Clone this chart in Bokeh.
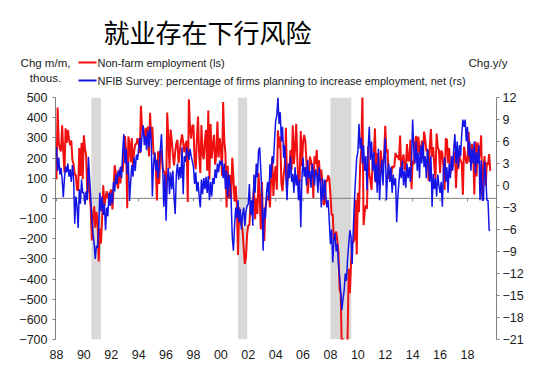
import numpy as np
from bokeh.plotting import figure
from bokeh.models import (Range1d, LinearAxis, FixedTicker, Span, BoxAnnotation)
from bokeh.core.properties import value
from bokeh.embed import file_html
from bokeh.resources import INLINE

# ---------------- data ----------------
start_year = 1988
# Non-farm employment, monthly change, thousands (left scale) - Jan 1988 onward
nfp = [
    94, 450, 277, 244, 234, 362, 227, 128, 347, 275, 339, 293,      # 1988
    263, 287, 189, 169, 118, 115, 43, 40, 249, 111, 275, 95,        # 1989
    313, 247, 213, 29, 151, 21, -45, -209, -84, -40, -146, -67,     # 1990
    -109, -313, -150, -224, -99, 65, -38, 1, 36, 6, -5, 30,         # 1991
    44, -55, 44, 164, 125, 74, 48, 143, 74, 161, 131, 221,          # 1992
    309, 237, -49, 307, 269, 179, 299, 155, 231, 268, 269, 298,     # 1993
    274, 224, 459, 347, 321, 303, 349, 293, 356, 208, 424, 297,     # 1994
    355, 217, 226, 160, -11, 233, 71, 236, 237, 144, 135, 124,      # 1995
    -20, 425, 299, 148, 341, 288, 216, 163, 229, 274, 290, 174,     # 1996
    227, 282, 317, 278, 228, 265, 285, -18, 491, 349, 296, 361,     # 1997
    362, 183, 145, 294, 406, 218, 125, 364, 219, 194, 286, 339,     # 1998
    137, 435, 93, 368, 198, 262, 315, 167, 215, 381, 203, 298,      # 1999
    248, 112, 477, 285, 224, -45, 161, 0, 115, -2, 201, 105,        # 2000
    -16, 62, -32, -281, -45, -127, -125, -160, -244, -325, -292, -178,  # 2001
    -134, -132, -22, -83, -12, 51, -104, -1, -77, 126, 9, -154,     # 2002
    81, -159, -212, -51, -6, -4, 21, -45, 93, 200, 12, 112,         # 2003
    160, 43, 337, 249, 307, 74, 36, 120, 160, 350, 64, 133,         # 2004
    136, 240, 142, 362, 170, 246, 369, 193, 67, 84, 334, 160,       # 2005
    277, 315, 281, 182, 23, 81, 207, 184, 157, 2, 209, 171,         # 2006
    240, 90, 189, 79, 143, 78, -33, -24, 88, 84, 114, 97,           # 2007
    17, -84, -78, -210, -185, -165, -209, -266, -452, -473, -769, -695,  # 2008
    -791, -703, -823, -687, -349, -471, -329, -213, -219, -200, -7, -279,  # 2009
    28, -69, 163, 243, 522, -133, -70, -34, -52, 257, 123, 88,      # 2010
    42, 188, 225, 346, 77, 225, 69, 110, 238, 166, 162, 214,        # 2011
    360, 226, 243, 96, 110, 88, 160, 150, 161, 225, 203, 214,       # 2012
    190, 311, 135, 192, 218, 146, 140, 269, 185, 189, 291, 45,      # 2013
    187, 168, 272, 310, 213, 306, 232, 218, 286, 200, 331, 292,     # 2014
    234, 238, 86, 262, 344, 206, 254, 157, 100, 321, 252, 239,      # 2015
    126, 237, 225, 153, 43, 297, 291, 176, 249, 124, 164, 155,      # 2016
    216, 232, 50, 207, 145, 210, 187, 177, 18, 256, 216, 175,       # 2017
    176, 330, 182, 196, 270, 235, 19, 282, 108, 277, 196, 227,      # 2018
    312, 1, 147, 210, 62, 178, 166, 219, 136,                       # 2019
]
# NFIB survey: % of firms planning to increase employment, net (right scale)
nfib = [
    5.2, 2.0, 3.8, 1.5, 2.4, 0.8, -1.6, 1.0, 2.6, 1.8, 3.0, 1.2,          # 1988
    2.2, 0.5, 2.8, 1.0, -5.2, -1.5, -2.8, -5.8, -0.5, -2.5, 0.8, -1.0,    # 1989
    -1.0, -2.6, -0.8, -2.0, 3.9, 1.0, -1.5, -4.5, -6.5, -8.0, -10.0, -8.2,  # 1990
    -8.5, -6.0, -1.0, -3.5, -1.5, -4.0, -2.5, -6.1, -3.0, -4.2, -1.0, -2.8,  # 1991
    -1.0, -2.5, 0.5, -0.8, 1.5, 0.2, 2.0, 1.2, 2.5, 1.0, 4.5, 7.0,        # 1992
    3.0, 5.0, 1.5, 3.2, -2.1, 0.5, 2.8, 1.2, 3.8, 2.0, 4.2, 3.5,          # 1993
    5.0, 6.5, 4.5, 7.0, 8.2, 5.5, 6.8, 4.8, 7.5, 5.2, 8.0, 6.2,           # 1994
    -1.5, 3.0, 4.5, 2.0, 3.5, 1.0, 2.5, 5.0, 7.0, 3.0, -2.9, 1.5,         # 1995
    -4.8, 0.5, 2.4, -1.2, 1.8, -0.5, 2.0, -1.6, -3.9, 1.5, 3.0, 0.8,      # 1996
    2.5, 1.0, 5.2, -1.2, 4.0, 3.2, 5.2, 4.5, 3.5, 5.0, 4.0, 3.3,          # 1997
    2.5, 0.2, 1.8, -0.8, 0.5, -1.5, -3.0, 0.8, -1.2, 1.0, -0.5, 1.2,      # 1998
    -1.0, 1.3, -2.0, 0.5, -1.5, 1.0, 0.2, 2.2, 1.0, 3.0, 1.8, 3.4,        # 1999
    2.8, 3.4, 1.0, 3.0, -0.5, 2.0, -1.6, 1.5, 0.0, -2.0, -7.0, -8.9,      # 2000
    -5.5, -3.0, -4.5, -2.0, -5.0, -3.2, -6.0, -4.0, -3.0, -5.5, -3.5, -2.8,  # 2001
    -2.5, 0.2, -4.0, -2.0, -5.5, 1.5, -1.0, 3.0, 1.1, 4.7, 5.2, 2.0,      # 2002
    -1.5, -8.9, -3.0, -4.5, -1.0, 0.5, -2.0, 2.9, 1.0, 4.0, 3.0, 6.0,     # 2003
    8.8, 9.5, 12.0, 8.4, 10.0, 6.0, 8.0, 3.8, 5.5, 1.0, -2.0, 3.0,        # 2004
    1.0, 4.0, 0.5, 1.6, -1.0, 2.5, 0.0, 1.5, -2.0, 0.8, -5.7, 1.0,        # 2005
    3.8, 1.2, 2.5, 0.0, 3.5, 1.0, 2.0, -0.3, 3.0, 1.5, 0.0, 2.2,          # 2006
    1.5, -1.0, 2.5, 0.5, -3.0, 1.0, -2.0, 0.8, -1.5, -3.0, -2.0, -5.0,    # 2007
    -8.0, -6.0, -10.5, -7.5, -6.5, -9.0, -8.0, -10.7, -12.5, -14.5, -17.0, -15.5,  # 2008
    -14.3, -12.0, -13.0, -10.0, -8.0, -6.1, -7.0, -10.7, -6.0, -2.0, 1.0, 3.8,  # 2009
    4.5, 8.4, 5.0, 6.5, 3.0, 5.5, 2.0, 4.0, -0.6, 5.0, 8.0, 3.5,          # 2010
    6.0, 2.0, 4.5, 0.5, 3.0, -1.0, 5.0, -2.0, 1.5, 3.5, 0.0, 4.0,         # 2011
    6.5, -2.0, 1.5, 3.0, 0.5, 2.5, -1.0, 1.5, 0.0, 1.0, -5.0, -1.5,       # 2012
    0.5, 2.5, 1.0, 3.4, 0.0, 2.0, -0.3, 3.0, 1.0, 2.5, 0.5, 3.0,          # 2013
    9.0, 5.0, 3.0, 6.0, 2.0, 4.5, 1.0, 5.5, 3.0, 6.0, 2.5, 4.0,           # 2014
    1.0, 5.0, 3.0, 0.5, 4.0, -2.9, 1.6, -0.5, 1.0, -1.5, 1.5, 0.0,        # 2015
    -1.0, 0.5, -2.9, 2.0, 3.8, 0.5, 2.5, -1.0, 3.0, 1.0, 4.0, 2.0,        # 2016
    5.0, 7.0, 3.0, 6.0, 2.5, 5.5, 4.0, 7.0, 9.0, 8.0, 9.0, 6.0,           # 2017
    8.0, 4.0, 6.0, 2.0, 5.0, 3.0, 6.0, 1.6, 4.5, 3.0, 5.5, -2.0,          # 2018
    3.4, -2.0, -2.0, 3.3, 1.5, -2.0, -2.0, -6.1, -6.1,                    # 2019
]
recession_start = [1990.55, 2001.25, 2008.0]
recession_end = [1991.25, 2001.92, 2009.52]
x_tick_years = list(range(1988, 2019, 2))
x_tick_labels = ["88", "90", "92", "94", "96", "98", "00", "02", "04",
                 "06", "08", "10", "12", "14", "16", "18"]
left_ticks = list(range(-700, 501, 100))
right_ticks = list(range(-21, 13, 3))

title_text = "就业存在下行风险"
left_unit = ["Chg m/m,", "thous."]
right_unit = "Chg.y/y"
legend_red = "Non-farm employment (ls)"
legend_blue = "NFIB Survey: percentage of firms planning to increase employment, net (rs)"

# ---------------- style ----------------
RED = "#f01010"
BLUE = "#1414e6"
TXT = "#1a1a1a"
FONT = "Liberation Sans"
W = 537
HEAD_H = 88
MAIN_H = 284

# ---------------- header (title + legend), pixel coordinates ----------------
h = figure(width=W, height=HEAD_H, output_backend="svg", toolbar_location=None,
           x_range=Range1d(0, W), y_range=Range1d(HEAD_H, 0),
           x_axis_location=None, y_axis_location=None,
           min_border=0, min_border_left=0, min_border_right=0,
           min_border_top=0, min_border_bottom=0)
h.grid.visible = False
h.outline_line_color = None
h.background_fill_color = "white"
h.border_fill_color = "white"

h.text(x=[103], y=[31], text=[title_text], text_font=value("Noto Sans CJK SC"),
       text_font_size=value("26px"), text_color="#000000",
       text_baseline="middle", text_align="left")
h.text(x=[45, 45], y=[62, 77], text=left_unit, text_font=value(FONT),
       text_font_size=value("11.5px"), text_color=TXT,
       text_baseline="middle", text_align="center")
h.text(x=[507], y=[62], text=[right_unit], text_font=value(FONT),
       text_font_size=value("11.5px"), text_color=TXT,
       text_baseline="middle", text_align="right")
h.segment(x0=[78, 78], y0=[62, 80], x1=[96, 96], y1=[62, 80],
          line_color=[RED, BLUE], line_width=2)
h.text(x=[97, 97], y=[62, 80], text=[legend_red, legend_blue],
       text_font=value(FONT), text_font_size=value("11px"), text_color=TXT,
       text_baseline="middle", text_align="left")

# ---------------- main chart ----------------
x_nfp = start_year + np.arange(len(nfp)) / 12.0
x_nfib = start_year + np.arange(len(nfib)) / 12.0

p = figure(width=W, height=MAIN_H, output_backend="svg", toolbar_location=None,
           x_range=Range1d(1987.93, 2020.12),
           y_range=Range1d(left_ticks[0], left_ticks[-1]),
           min_border_left=55, min_border_right=41, min_border_top=9,
           min_border_bottom=33)
p.extra_y_ranges = {"rs": Range1d(right_ticks[0], right_ticks[-1])}
p.outline_line_color = None
p.xgrid.visible = False
p.ygrid.visible = False
p.background_fill_color = "white"
p.border_fill_color = "white"

for s, e in zip(recession_start, recession_end):
    p.add_layout(BoxAnnotation(left=s, right=e, fill_color="#d9d9d9",
                               fill_alpha=1.0, line_color=None, level="underlay"))

p.add_layout(Span(location=0, dimension="width", line_color="#808080",
                  line_width=1, level="underlay"))
p.segment(x0=x_tick_years, y0=[0] * len(x_tick_years), x1=x_tick_years,
          y1=[-15] * len(x_tick_years), line_color="#808080", line_width=1)

p.line(x_nfp, nfp, line_color=RED, line_width=2)
p.line(x_nfib, nfib, line_color=BLUE, line_width=1.5, y_range_name="rs")


def style_axis(ax):
    ax.axis_line_color = "#808080"
    ax.major_tick_line_color = "#808080"
    ax.minor_tick_line_color = None
    ax.major_tick_in = 0
    ax.major_tick_out = 3
    ax.major_label_text_font = FONT
    ax.major_label_text_font_size = "12.5px"
    ax.major_label_text_color = TXT


yl = p.yaxis[0]
yl.ticker = FixedTicker(ticks=left_ticks)
style_axis(yl)
yl.major_label_standoff = 5

yr = LinearAxis(y_range_name="rs", ticker=FixedTicker(ticks=right_ticks))
style_axis(yr)
yr.major_label_standoff = 3
p.add_layout(yr, "right")

xb = p.xaxis[0]
xb.ticker = FixedTicker(ticks=x_tick_years)
xb.major_label_overrides = {y: l for y, l in zip(x_tick_years, x_tick_labels)}
style_axis(xb)
xb.axis_line_color = None
xb.major_tick_line_color = None
xb.major_tick_out = 0
xb.major_label_standoff = 10

open("out.html", "w").write(file_html([h, p], INLINE))
